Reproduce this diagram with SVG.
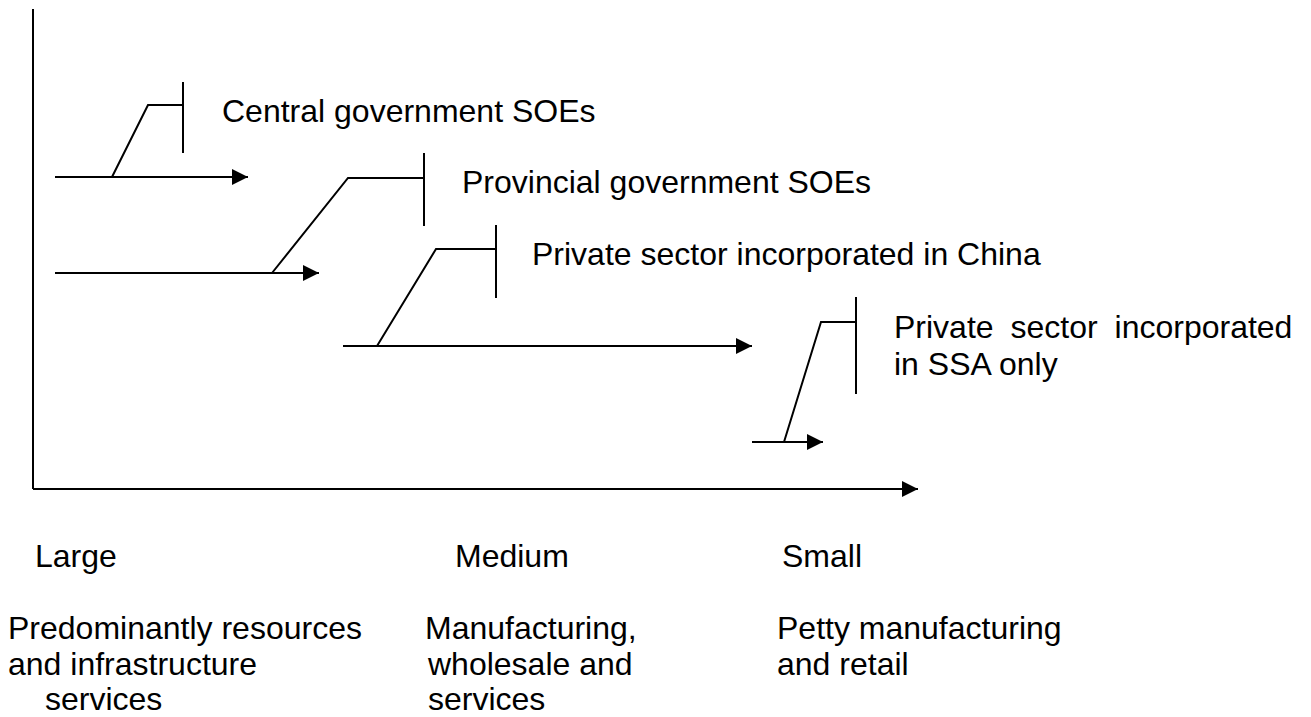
<svg xmlns="http://www.w3.org/2000/svg" width="1311" height="717" viewBox="0 0 1311 717">
<style>
.ln{stroke:#000;stroke-width:2;fill:none}
.ar{stroke:#000;stroke-width:2;fill:none;marker-end:url(#ah)}
text{font-family:"Liberation Sans",Arial,sans-serif;font-size:32px;fill:#000}
</style>
<defs>
<marker id="ah" markerUnits="userSpaceOnUse" markerWidth="17" markerHeight="17" refX="16" refY="8" orient="auto">
<path d="M0,0 L16,8 L0,16 Z" fill="#000"/>
</marker>
</defs>
<rect width="1311" height="717" fill="#fff"/>
<g id="connectors">
<line class="ln" x1="33" y1="9" x2="33" y2="489"/>
<line class="ar" x1="33" y1="489" x2="918" y2="489"/>
<line class="ar" x1="55" y1="177" x2="248" y2="177"/>
<line class="ar" x1="55" y1="273" x2="319" y2="273"/>
<line class="ar" x1="343" y1="346" x2="752" y2="346"/>
<line class="ar" x1="752" y1="442" x2="823" y2="442"/>
</g>
<g id="central">
<polyline class="ln" points="112,177 148,105 183,105"/>
<line class="ln" x1="183" y1="82" x2="183" y2="153"/>
<text x="222" y="122">Central government SOEs</text>
</g>
<g id="provincial">
<polyline class="ln" points="272,273 348,178 424,178"/>
<line class="ln" x1="424" y1="153" x2="424" y2="226"/>
<text x="462" y="193">Provincial government SOEs</text>
</g>
<g id="private-china">
<polyline class="ln" points="377,346 436,249 496,249"/>
<line class="ln" x1="496" y1="225" x2="496" y2="298"/>
<text x="532" y="265">Private sector incorporated in China</text>
</g>
<g id="private-ssa">
<polyline class="ln" points="784,442 821,322 856,322"/>
<line class="ln" x1="856" y1="297" x2="856" y2="394"/>
<text x="894" y="338" word-spacing="8">Private sector incorporated</text>
<text x="894" y="375">in SSA only</text>
</g>
<g id="large">
<text x="35" y="567">Large</text>
<text x="8" y="639">Predominantly resources</text>
<text x="8" y="675">and infrastructure</text>
<text x="45" y="710">services</text>
</g>
<g id="medium">
<text x="455" y="567">Medium</text>
<text x="425" y="639">Manufacturing,</text>
<text x="428" y="675">wholesale and</text>
<text x="428" y="710">services</text>
</g>
<g id="small">
<text x="782" y="567">Small</text>
<text x="777" y="639">Petty manufacturing</text>
<text x="777" y="675">and retail</text>
</g>
</svg>
